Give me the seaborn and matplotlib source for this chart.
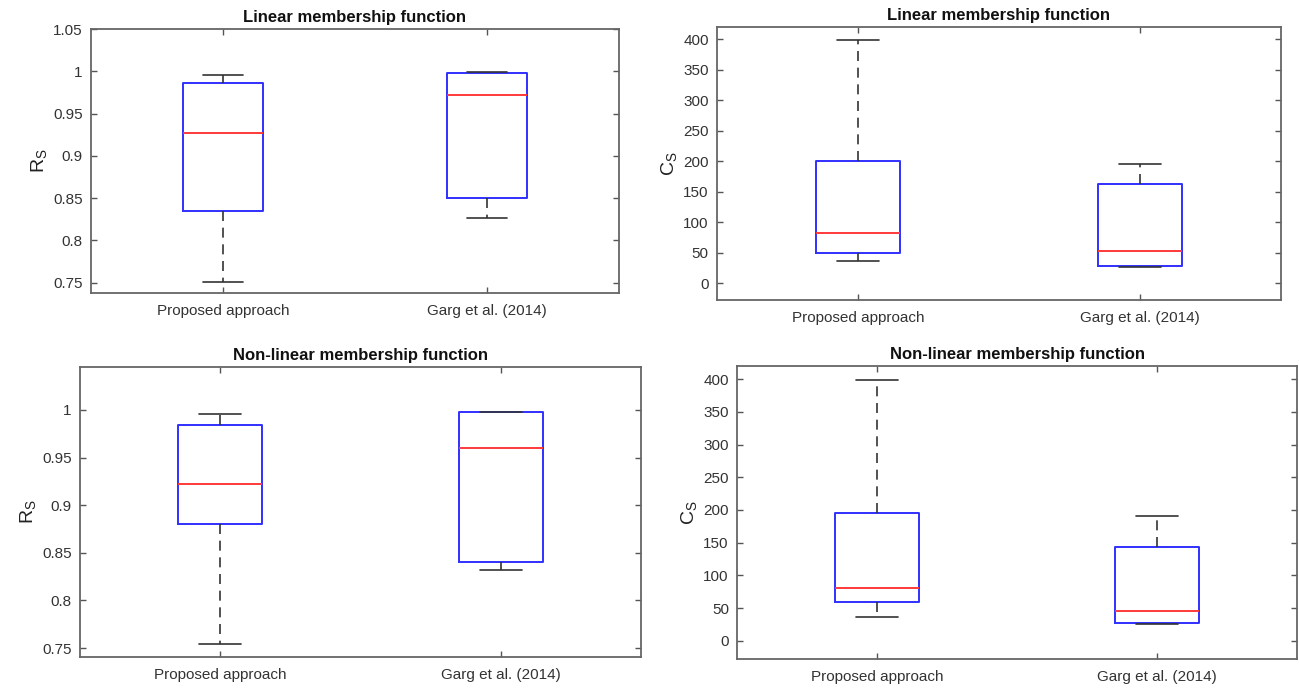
import pandas as pd
import matplotlib
matplotlib.use('Agg')
import matplotlib.pyplot as plt
import seaborn as sns

# five-number summaries: min, q1, median, q3, max
methods = ['Proposed approach', 'Garg et al. (2014)']

rs_linear_proposed = [0.751, 0.835, 0.927, 0.986, 0.996]
rs_linear_garg = [0.826, 0.850, 0.972, 0.998, 0.9995]
cs_linear_proposed = [37, 50, 82, 200, 399]
cs_linear_garg = [27, 28.5, 53, 163, 195]

rs_nonlinear_proposed = [0.754, 0.880, 0.9225, 0.984, 0.996]
rs_nonlinear_garg = [0.8315, 0.8405, 0.960, 0.9975, 0.998]
cs_nonlinear_proposed = [37, 60, 80, 196, 399]
cs_nonlinear_garg = [26, 27.5, 46, 143, 191]

titles = ['Linear membership function', 'Non-linear membership function']
rs_ticks = [0.75, 0.8, 0.85, 0.9, 0.95, 1, 1.05]
cs_ticks = [0, 50, 100, 150, 200, 250, 300, 350, 400]


def to_frame(a, b):
    return pd.DataFrame({'method': [methods[0]] * len(a) + [methods[1]] * len(b),
                         'value': list(a) + list(b)})


def g_fmt(x, pos):
    return '{:g}'.format(x)


sns.set_style('white')
plt.rcParams['font.family'] = ['Liberation Sans', 'DejaVu Sans']
plt.rcParams['mathtext.default'] = 'regular'

fig = plt.figure(figsize=(12.99, 6.88), dpi=100)
rects = [[0.0700, 0.5740, 0.4065, 0.3837],
         [0.5520, 0.5640, 0.4340, 0.3970],
         [0.0616, 0.0450, 0.4320, 0.4215],
         [0.5675, 0.0420, 0.4310, 0.4260]]
panels = [(rs_linear_proposed, rs_linear_garg, titles[0], 'R$_S$', (0.7375, 1.05), rs_ticks),
          (cs_linear_proposed, cs_linear_garg, titles[0], 'C$_S$', (-27, 420), cs_ticks),
          (rs_nonlinear_proposed, rs_nonlinear_garg, titles[1], 'R$_S$', (0.7406, 1.045), rs_ticks[:-1]),
          (cs_nonlinear_proposed, cs_nonlinear_garg, titles[1], 'C$_S$', (-28, 420), cs_ticks)]

for rect, (a, b, title, ylab, ylim, yt) in zip(rects, panels):
    ax = fig.add_axes(rect)
    df = to_frame(a, b)
    sns.boxplot(data=df, x='method', y='value', order=methods, ax=ax,
                fill=False, width=0.3, whis=(0, 100), showfliers=False,
                linecolor='#3030ff', linewidth=1.4,
                boxprops=dict(color='#3030ff'),
                medianprops=dict(color='#ff3a3a', linewidth=1.4),
                whiskerprops=dict(color='#333333', linestyle=(0, (6, 4)), linewidth=1.2),
                capprops=dict(color='#333333', linewidth=1.2))
    ax.set_xlim(-0.5, 1.5)
    ax.set_ylim(*ylim)
    ax.set_yticks(yt)
    ax.yaxis.set_major_formatter(matplotlib.ticker.FuncFormatter(g_fmt))
    ax.set_title(title, fontsize=12, fontweight='bold', color='#111111', pad=5)
    ax.set_xlabel('')
    ax.set_ylabel(ylab, fontsize=14, color='#222222', labelpad=3)
    ax.tick_params(direction='in', length=4, width=1, color='#555555',
                   labelsize=11, labelcolor='#333333',
                   top=True, right=True, bottom=True, left=True, pad=6)
    ax.tick_params(axis='x', pad=8)
    for s in ax.spines.values():
        s.set_color('#666666')
        s.set_linewidth(1.3)

fig.savefig('out.png', dpi=100)
